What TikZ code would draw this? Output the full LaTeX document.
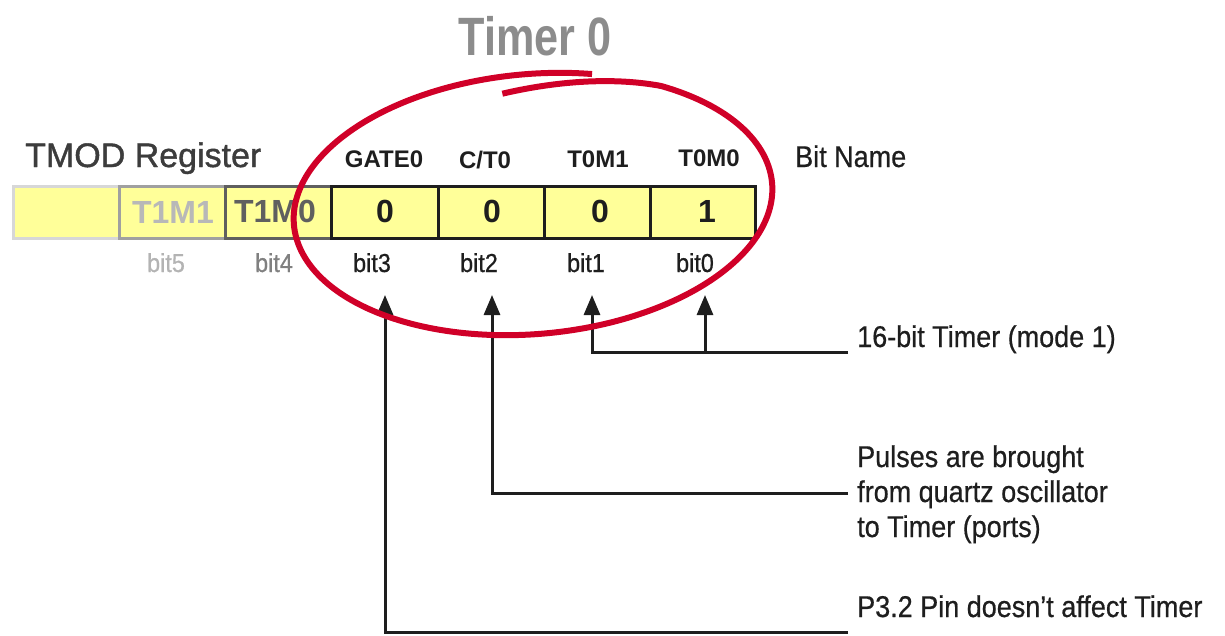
\documentclass[tikz,border=0pt]{standalone}
\usepackage{fontspec}
\setmainfont{Liberation Sans}
\newfontfamily\titlefont[FakeStretch=0.8]{Liberation Sans}
\newfontfamily\lblfont[FakeStretch=0.9,FakeBold=0.6]{Liberation Sans}
\newfontfamily\heavyfont[FakeBold=1.2]{Liberation Sans}
\usetikzlibrary{arrows.meta}
\definecolor{cellyellow}{RGB}{255,255,153}
\definecolor{ringred}{RGB}{208,0,40}
\definecolor{titlegray}{RGB}{140,140,140}
\definecolor{faint}{RGB}{215,215,215}
\definecolor{midgray}{RGB}{160,160,160}
\definecolor{darkgray2}{RGB}{95,95,95}
\definecolor{textdark}{RGB}{60,60,60}
\definecolor{inkblack}{RGB}{30,30,30}
\tikzset{
  cellbox/.style={draw=inkblack, fill=cellyellow, line width=3pt},
  valtxt/.style={anchor=base, inner sep=0pt, font=\fontsize{32}{36}\selectfont\bfseries, text=inkblack},
  nametxt/.style={anchor=base, inner sep=0pt, font=\fontsize{24}{28}\selectfont\bfseries, text=inkblack},
  bittxt/.style={anchor=base, inner sep=0pt, font=\lblfont\fontsize{26}{30}\selectfont, text=inkblack},
  desctxt/.style={anchor=base west, inner sep=0pt, font=\lblfont\fontsize{30}{35}\selectfont, text=inkblack},
  conn/.style={draw=inkblack, line width=3pt},
  arr/.style={conn, -{Triangle[width=16pt,length=20pt]}},
  ring/.style={draw=ringred, line width=6pt}
}
\begin{document}
\begin{tikzpicture}[x=1pt,y=-1pt]
\useasboundingbox (0,0) rectangle (1225,635);
% title
\node[anchor=base, inner sep=0pt, font=\titlefont\fontsize{54}{60}\selectfont\bfseries, text=titlegray] (title) at (535,55) {Timer 0};
\node[anchor=base west, inner sep=0pt, font=\heavyfont\fontsize{34}{40}\selectfont, text=textdark] (tmod) at (25,167) {TMOD Register};
\node[anchor=base west, inner sep=0pt, font=\lblfont\fontsize{30}{35}\selectfont, text=inkblack] (bitname) at (795,167) {Bit Name};
% register cells
\draw[draw=faint, fill=cellyellow, line width=3pt] (13,186) rectangle (119,238);
\draw[draw=midgray, fill=cellyellow, line width=3pt] (119,186) rectangle (225,238);
\draw[draw=darkgray2, fill=cellyellow, line width=3pt] (225,186) rectangle (331,238);
\draw[cellbox] (331,186) rectangle (438,238);
\draw[cellbox] (438,186) rectangle (544,238);
\draw[cellbox] (544,186) rectangle (650,238);
\draw[cellbox] (650,186) rectangle (755,238);
\node[valtxt, text=midgray!75] (t1m1) at (173,223) {T1M1};
\node[valtxt, text=darkgray2] (t1m0) at (275,222) {T1M0};
\node[valtxt] (v3) at (385,222) {0};
\node[valtxt] (v2) at (492,222) {0};
\node[valtxt] (v1) at (600,222) {0};
\node[valtxt] (v0) at (707,222) {1};
% bit names
\node[nametxt] (gate0) at (384,167) {GATE0};
\node[nametxt] (ct0) at (485,168) {C/T0};
\node[nametxt] (t0m1) at (598,167) {T0M1};
\node[nametxt] (t0m0) at (709,166) {T0M0};
% bit numbers
\node[bittxt, text=midgray!80] (b5) at (166,272) {bit5};
\node[bittxt, text=gray] (b4) at (274,272) {bit4};
\node[bittxt] (b3) at (372,272) {bit3};
\node[bittxt] (b2) at (479,272) {bit2};
\node[bittxt] (b1) at (586,272) {bit1};
\node[bittxt] (b0) at (695,272) {bit0};
% descriptions
\node[desctxt] (d1) at (857,347) {16-bit Timer (mode 1)};
\node[desctxt, align=left] (d2) at (857,537) {Pulses are brought\\from quartz oscillator\\to Timer (ports)};
\node[desctxt] (d3) at (857,617) {P3.2 Pin doesn’t affect Timer};
% connector coordinates
\coordinate (e1) at (848,352);
\coordinate (e2) at (848,493);
\coordinate (e3) at (848,632);
\coordinate (a0) at (705,295);
\coordinate (a1) at (592,295);
\coordinate (a2) at (492,295);
\coordinate (a3) at (385,295);
\coordinate (j0) at (705,352);
% connectors
\draw[arr] (e1) -| (a1);
\draw[arr] (j0) -- (a0);
\draw[arr] (e2) -| (a2);
\draw[arr] (e3) -| (a3);
% red ring
\draw[ring] plot[domain=-95:287, samples=220, smooth, variable=\t]
  ({533 + 240*cos(\t)*cos(-5) - (130-17*max(0,(-55-\t)/40))*sin(\t)*sin(-5)},
   {204 + 240*cos(\t)*sin(-5) + (130-17*max(0,(-55-\t)/40))*sin(\t)*cos(-5)});
\end{tikzpicture}
\end{document}
